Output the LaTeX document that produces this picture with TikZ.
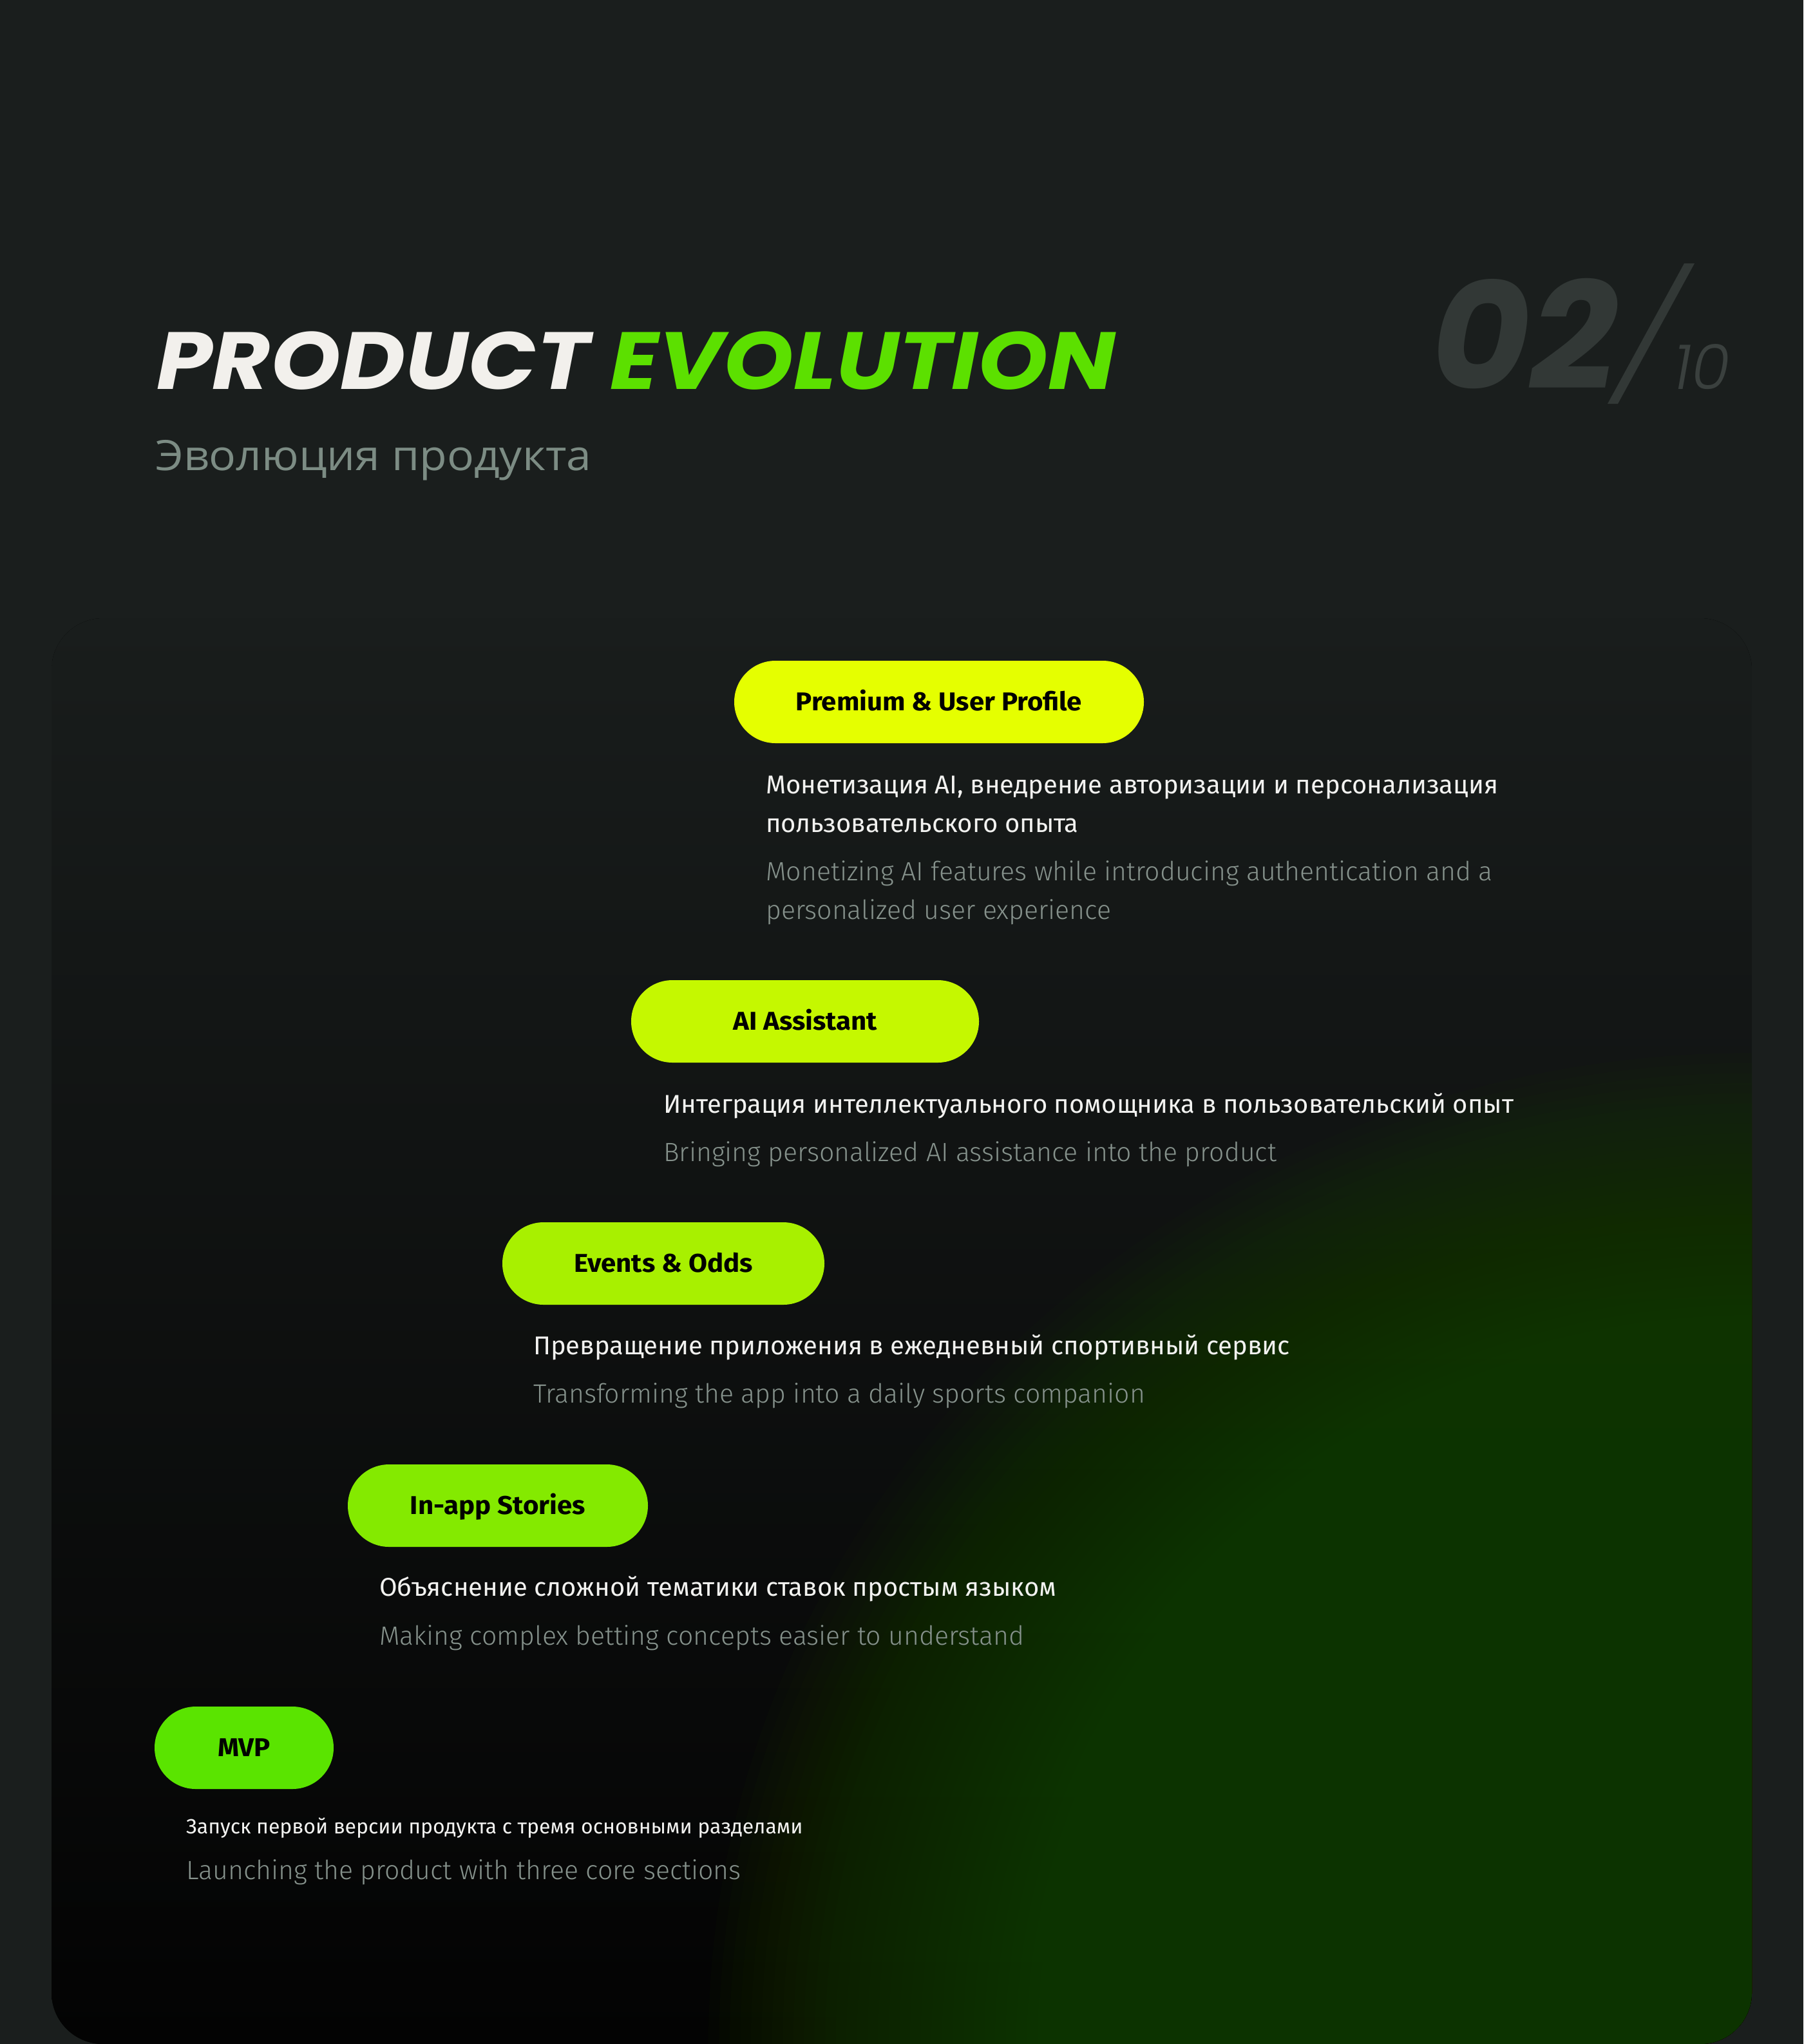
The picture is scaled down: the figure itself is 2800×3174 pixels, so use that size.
\documentclass[tikz,border=0pt]{standalone}
\usepackage{fontspec}
\setmainfont{Fira Sans}
\newfontfamily\enfont{Fira Sans}[UprightFont={* Light}]
\newfontfamily\popfont{Poppins}
\newfontfamily\poptitle{Poppins}[FakeStretch=1.1]
\newfontfamily\poplight{Poppins}[UprightFont={* Light}, ItalicFont={* Light Italic}]
\newfontfamily\subfont{Open Sans}[FakeStretch=1.07]
\newfontfamily\labelfont{Fira Sans}[FakeStretch=1.05]
\definecolor{bg}{HTML}{1A1E1D}
\definecolor{cardtop}{HTML}{191D1C}
\definecolor{cardbot}{HTML}{030303}
\definecolor{glowgreen}{HTML}{1F4600}
\definecolor{titlewhite}{HTML}{F2F0EC}
\definecolor{titlegreen}{HTML}{5CE000}
\definecolor{subgray}{HTML}{7C8C84}
\definecolor{numgray}{HTML}{323836}
\definecolor{numgraylt}{HTML}{3A403E}
\definecolor{bodywhite}{HTML}{F2F2F0}
\definecolor{engray}{HTML}{86928C}
\definecolor{pillA}{HTML}{E5FF00}
\definecolor{pillB}{HTML}{C5F800}
\definecolor{pillC}{HTML}{A8F000}
\definecolor{pillD}{HTML}{84EA00}
\definecolor{pillE}{HTML}{5AE400}
\tikzset{
  pill/.style={rectangle, rounded corners=64pt, minimum height=128pt, inner sep=0pt,
    text=black, font=\labelfont\fontsize{40}{46}\selectfont\bfseries, text height=27pt, text depth=0pt},
  rutext/.style={anchor=base west, inner sep=0pt, text=bodywhite, font=\fontsize{40}{46}\selectfont},
  entext/.style={anchor=base west, inner sep=0pt, text=engray, font=\enfont\fontsize{41}{46}\selectfont},
}
\begin{document}
\begin{tikzpicture}[x=1pt, y=-1pt]
\useasboundingbox (0,0) rectangle (2800,3174);
\fill[bg] (0,0) rectangle (2800,3174);
% card
\begin{scope}
  \clip[rounded corners=80pt] (80,960) rectangle (2720,3174);
  \fill[top color=cardtop, bottom color=cardbot] (80,960) rectangle (2720,3174);
  \foreach \k in {0,...,59}{
    \pgfmathsetmacro\rr{1620*(1-0.6*\k/59)}
    \fill[glowgreen, fill opacity=0.05] (2720,3174) ellipse [x radius=\rr pt, y radius=0.95*\rr pt];
  }
\end{scope}
% title
\node[anchor=base west, inner sep=0pt, font=\poptitle\fontsize{126}{130}\selectfont\bfseries\itshape] (title) at (243,604)
  {\textcolor{titlewhite}{PRODUCT} \textcolor{titlegreen}{EVOLUTION}};
\node[anchor=base west, inner sep=0pt, text=subgray, font=\subfont\fontsize{65}{70}\selectfont] (subtitle) at (241,730) {Эволюция продукта};
% page number
\node[anchor=base west, inner sep=0pt, text=numgray, font=\popfont\fontsize{236}{240}\selectfont\bfseries\itshape] (num) at (2222,604) {02};
\fill[numgray] (2496,627) -- (2512,627) -- (2631,409) -- (2615,409) -- cycle;
\node[anchor=base west, inner sep=0pt, text=numgraylt, font=\poplight\fontsize{97}{100}\selectfont\itshape] (total) at (2598,604) {10};
% pills
\node[pill, fill=pillA, minimum width=636pt] (p1) at (1458,1090) {Premium \& User Profile};
\node[pill, fill=pillB, minimum width=540pt] (p2) at (1250,1586) {AI Assistant};
\node[pill, fill=pillC, minimum width=500pt] (p3) at (1030,1962) {Events \& Odds};
\node[pill, fill=pillD, minimum width=466pt] (p4) at (773,2338) {In-app Stories};
\node[pill, fill=pillE, minimum width=278pt] (p5) at (379,2714) {MVP};
% descriptions
\node[rutext] (r1a) at (1189,1232) {Монетизация AI, внедрение авторизации и персонализация};
\node[rutext] (r1b) at (1189,1292) {пользовательского опыта};
\node[entext] (e1a) at (1189,1367) {Monetizing AI features while introducing authentication and a};
\node[entext] (e1b) at (1189,1427) {personalized user experience};
\node[rutext] (r2) at (1030,1728) {Интеграция интеллектуального помощника в пользовательский опыт};
\node[entext] (e2) at (1030,1803) {Bringing personalized AI assistance into the product};
\node[rutext] (r3) at (828,2103) {Превращение приложения в ежедневный спортивный сервис};
\node[entext] (e3) at (828,2178) {Transforming the app into a daily sports companion};
\node[rutext] (r4) at (589,2478) {Объяснение сложной тематики ставок простым языком};
\node[entext] (e4) at (589,2554) {Making complex betting concepts easier to understand};
\node[rutext, font=\fontsize{32}{36}\selectfont] (r5) at (289,2847) {Запуск первой версии продукта с тремя основными разделами};
\node[entext] (e5) at (289,2918) {Launching the product with three core sections};
\end{tikzpicture}
\end{document}
